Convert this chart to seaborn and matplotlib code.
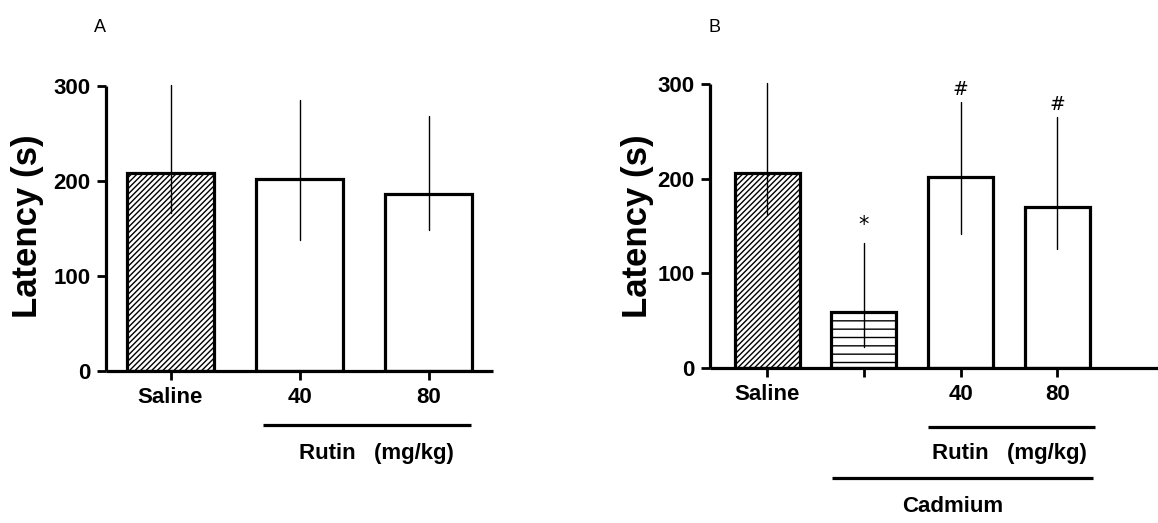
import matplotlib
matplotlib.use("Agg")
import matplotlib.pyplot as plt
import matplotlib.transforms as mtransforms
import seaborn as sns

# ---- data ----
cats_a = ["Saline", "Rutin 40", "Rutin 80"]
labels_a = ["Saline", "40", "80"]
means_a = [208, 202, 186]
err_low_a = [166, 138, 148]
err_high_a = [301, 285, 268]

cats_b = ["Saline", "Cadmium", "Cd + Rutin 40", "Cd + Rutin 80"]
labels_b = ["Saline", "", "40", "80"]
means_b = [206, 59.5, 202, 170]
err_low_b = [163, 22.5, 142, 126]
err_high_b = [301, 132, 281, 265]
marks_b = ["", "*", "#", "#"]

yticks = [0, 100, 200, 300]

sns.set_style("ticks")
plt.rcParams["font.family"] = ["Liberation Sans", "DejaVu Sans"]
plt.rcParams["hatch.linewidth"] = 1.0
plt.rcParams["hatch.color"] = "black"
plt.rcParams["axes.edgecolor"] = "black"
plt.rcParams["xtick.color"] = "black"
plt.rcParams["ytick.color"] = "black"
plt.rcParams["text.color"] = "black"
plt.rcParams["axes.labelcolor"] = "black"

fig = plt.figure(figsize=(11.58, 5.23), dpi=100)
W, H = 1158, 523


def px_axes(left, top, right, bottom):
    return fig.add_axes([left / W, 1 - bottom / H, (right - left) / W, (bottom - top) / H])


ax_a = px_axes(106, 86, 493, 371)
ax_b = px_axes(710, 84, 1158, 368)

hatches_a = ["//////", "", ""]
hatches_b = ["//////", "--", "", ""]

TICKFS = 16


def draw_panel(ax, cats, labels, means, lows, highs, hatches, xlim):
    sns.barplot(x=cats, y=means, order=cats, color="white", edgecolor="black",
                linewidth=2.3, width=0.67, errorbar=None, ax=ax, saturation=1)
    for p, h in zip(ax.patches, hatches):
        p.set_facecolor("white")
        p.set_hatch(h)
        p.set_zorder(2)
    xs = list(range(len(cats)))
    for x, m, lo, hi in zip(xs, means, lows, highs):
        ax.plot([x, x], [lo, hi], color="black", lw=1.0, zorder=5, clip_on=False)
    ax.set_xlim(*xlim)
    ax.set_ylim(0, 300)
    ax.set_yticks(yticks)
    ax.set_yticklabels([str(t) for t in yticks], fontsize=TICKFS, fontweight="bold")
    ax.set_xticks(xs)
    ax.set_xticklabels(labels, fontsize=TICKFS, fontweight="bold")
    ax.tick_params(axis="both", direction="out", length=6.5, width=2.0, pad=4.5,
                   colors="black")
    ax.tick_params(axis="x", pad=5)
    for s in ["top", "right"]:
        ax.spines[s].set_visible(False)
    for s in ["left", "bottom"]:
        ax.spines[s].set_linewidth(2.3)
        ax.spines[s].set_color("black")
        ax.spines[s].set_capstyle("butt")
    ax.set_xlabel("")
    ax.set_ylabel("")
    ax.set_facecolor("white")


draw_panel(ax_a, cats_a, labels_a, means_a, err_low_a, err_high_a, hatches_a, (-0.5, 2.5))
draw_panel(ax_b, cats_b, labels_b, means_b, err_low_b, err_high_b, hatches_b, (-0.59, 4.04))

# y labels
fig.text(28 / W, 1 - 226 / H, "Latency (s)", rotation=90, ha="center", va="center",
         fontsize=25, fontweight="bold")
fig.text(638 / W, 1 - 226 / H, "Latency (s)", rotation=90, ha="center", va="center",
         fontsize=25, fontweight="bold")

# panel letters
fig.text(100 / W, 1 - 27 / H, "A", ha="center", va="center", fontsize=13)
fig.text(715 / W, 1 - 27 / H, "B", ha="center", va="center", fontsize=13)

# significance marks
for x, m, hi in zip(range(len(cats_b)), marks_b, err_high_b):
    if m:
        ax_b.text(x, hi + (8 if m == "*" else 3), m, ha="center", va="bottom",
                  fontsize=15 if m == "*" else 13.5, family="DejaVu Sans", zorder=6)

# group brackets and labels
tr_a = mtransforms.blended_transform_factory(ax_a.transData, ax_a.transAxes)
ax_a.plot([0.72, 2.33], [-0.189, -0.189], transform=tr_a, color="black", lw=2.3,
          clip_on=False, solid_capstyle="butt")
ax_a.text(1.6, -0.288, "Rutin   (mg/kg)", transform=tr_a, ha="center", va="center",
          fontsize=TICKFS, fontweight="bold")

tr_b = mtransforms.blended_transform_factory(ax_b.transData, ax_b.transAxes)
ax_b.plot([1.66, 3.39], [-0.208, -0.208], transform=tr_b, color="black", lw=2.3,
          clip_on=False, solid_capstyle="butt")
ax_b.text(2.5, -0.30, "Rutin   (mg/kg)", transform=tr_b, ha="center", va="center",
          fontsize=TICKFS, fontweight="bold")
ax_b.plot([0.67, 3.37], [-0.387, -0.387], transform=tr_b, color="black", lw=2.3,
          clip_on=False, solid_capstyle="butt")
ax_b.text(1.92, -0.489, "Cadmium", transform=tr_b, ha="center", va="center",
          fontsize=TICKFS, fontweight="bold")

fig.savefig("out.png", dpi=100, facecolor="white")
